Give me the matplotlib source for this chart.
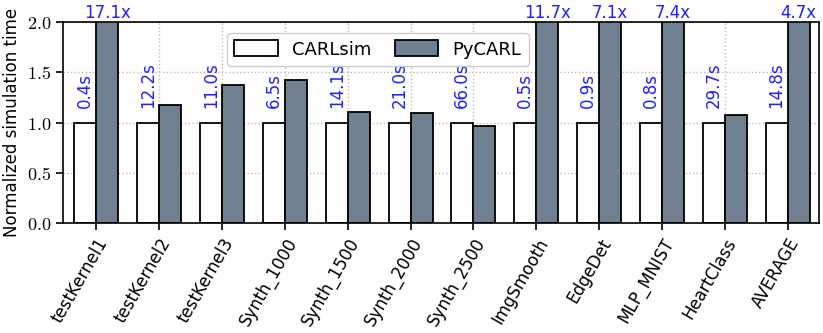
import matplotlib
matplotlib.use("Agg")
import matplotlib.pyplot as plt
import numpy as np

categories = ["testKernel1", "testKernel2", "testKernel3", "Synth_1000", "Synth_1500",
              "Synth_2000", "Synth_2500", "ImgSmooth", "EdgeDet", "MLP_MNIST",
              "HeartClass", "AVERAGE"]
carlsim = [1.0] * 12
pycarl = [17.1, 1.17, 1.37, 1.42, 1.10, 1.09, 0.97, 11.7, 7.1, 7.4, 1.07, 4.7]
carlsim_times = ["0.4s", "12.2s", "11.0s", "6.5s", "14.1s", "21.0s", "66.0s",
                 "0.5s", "0.9s", "0.8s", "29.7s", "14.8s"]
yticks = [0.0, 0.5, 1.0, 1.5, 2.0]

plt.rcParams['font.family'] = ['DejaVu Sans']
plt.rcParams['mathtext.fontset'] = 'cm'

fig = plt.figure(figsize=(8.23, 3.33), dpi=100)
ax = fig.add_axes([63/823, 1-223/333, (819-63)/823, (223-22)/333])

x = np.arange(len(categories))
w = 0.35
ax.set_axisbelow(True)
ax.grid(True, linestyle=':', color='#bbbbbb', linewidth=1.0)
ax.bar(x - w/2, carlsim, w, color='white', edgecolor='black', linewidth=1.3, label='CARLsim')
ax.bar(x + w/2, pycarl, w, color='slategray', edgecolor='black', linewidth=1.3, label='PyCARL')

ymax = 2.0
for i in range(len(categories)):
    ax.text(x[i] - w/2, carlsim[i] + 0.14, carlsim_times[i], rotation=90, color='#2020ff',
            ha='center', va='bottom', fontsize=12)
    if pycarl[i] > ymax:
        ax.text(x[i] + w/2, ymax, f"{pycarl[i]:.1f}x", color='#2020ff', ha='center',
                va='bottom', fontsize=12, clip_on=False)

ax.set_ylim(0, ymax)
ax.set_xlim(-0.53, 11.5)
ax.set_yticks(yticks)
ax.set_yticklabels([f"${v:.1f}$" for v in yticks], fontsize=13)
ax.set_xticks(x)
ax.set_xticklabels(categories, rotation=60, ha='right', rotation_mode='anchor', fontsize=12)
ax.tick_params(axis='both', direction='out', length=5, width=1.2)
ax.set_ylabel("Normalized simulation time", fontsize=12)
for s in ax.spines.values():
    s.set_linewidth(1.2)

ax.legend(loc='upper left', bbox_to_anchor=(0.205, 0.99), ncol=2, fontsize=13,
          handlelength=2.4, handleheight=1.0, columnspacing=1.3, fancybox=True, framealpha=1.0,
          edgecolor='#cccccc')

fig.savefig("out.png", dpi=100)
